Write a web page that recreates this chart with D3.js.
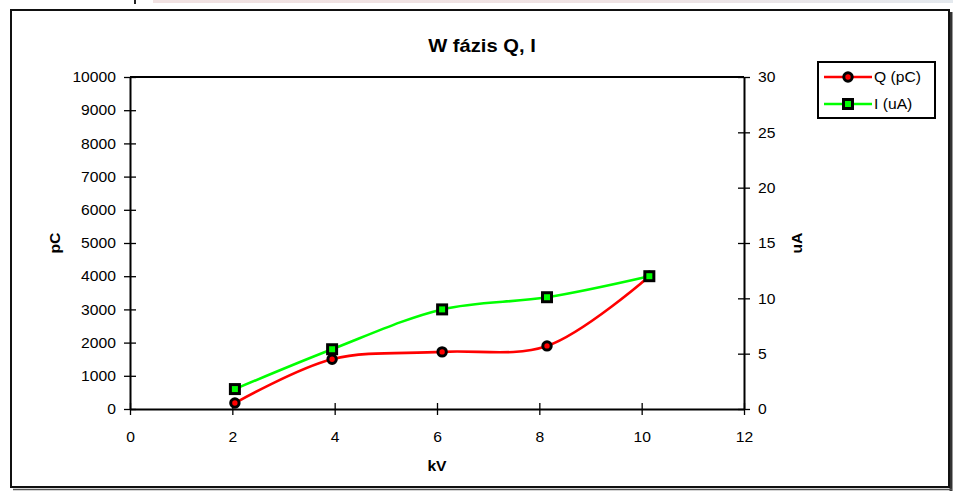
<!DOCTYPE html>
<html>
<head>
<meta charset="utf-8">
<script src="https://cdn.jsdelivr.net/npm/d3@7"></script>
<style>
  body { margin: 0; background: #fff; }
  svg { display: block; }
  text { font-family: "Liberation Sans", Arial, sans-serif; fill: #000; }
</style>
</head>
<body>
<svg id="chart" width="953" height="492"></svg>
<script>
// Measurements: voltage (kV), discharge (pC, left axis), current (uA, right axis)
const kv = [2.05, 3.95, 6.1, 8.15, 10.15];
const charge = [180, 1500, 1720, 1900, 4000];
const current = [1.8, 5.4, 9.0, 10.1, 12.0];

const xTicks = [0, 2, 4, 6, 8, 10, 12];
const leftTicks = [0, 1000, 2000, 3000, 4000, 5000, 6000, 7000, 8000, 9000, 10000];
const rightTicks = [0, 5, 10, 15, 20, 25, 30];
const seriesNames = ["Q (pC)", "I (uA)"];
const titleText = "W fázis Q, I";
const xTitle = "kV", leftTitle = "pC", rightTitle = "uA";

const svg = d3.select("#chart");
const plot = { left: 130, right: 744, top: 77, bottom: 409 };
const sx = 1.12;            // slightly wide lettering

const x = d3.scaleLinear().domain([0, 12]).range([plot.left, plot.right]);
const yL = d3.scaleLinear().domain([0, 10000]).range([plot.bottom, plot.top]);
const yR = d3.scaleLinear().domain([0, 30]).range([plot.bottom, plot.top]);

// strip along the top edge
const defs = svg.append("defs");
const grad = defs.append("linearGradient").attr("id", "strip");
grad.append("stop").attr("offset", "0%").attr("stop-color", "#f1e2e2");
grad.append("stop").attr("offset", "60%").attr("stop-color", "#efe3e4");
grad.append("stop").attr("offset", "100%").attr("stop-color", "#e4e9ee");
svg.append("rect").attr("x", 153).attr("y", 0).attr("width", 800).attr("height", 3)
  .attr("fill", "url(#strip)");
svg.append("rect").attr("x", 134).attr("y", 0).attr("width", 2).attr("height", 4)
  .attr("fill", "#222");

// chart frame with shadow
svg.append("line").attr("x1", 951).attr("x2", 951).attr("y1", 12).attr("y2", 491)
  .attr("stroke", "#333").attr("stroke-width", 3);
svg.append("line").attr("x1", 13).attr("x2", 952).attr("y1", 489.5).attr("y2", 489.5)
  .attr("stroke", "#555").attr("stroke-width", 1.5);
svg.append("rect").attr("x", 11).attr("y", 10).attr("width", 938).attr("height", 477)
  .attr("fill", "none").attr("stroke", "#111").attr("stroke-width", 2);

function label(txt, px, py, opts = {}) {
  const rot = opts.rotate ? ` rotate(${opts.rotate})` : "";
  return svg.append("text")
    .attr("transform", `translate(${px},${py})${rot} scale(${sx},1)`)
    .attr("text-anchor", opts.anchor || "middle")
    .attr("dominant-baseline", "central")
    .attr("font-size", opts.size || 14)
    .attr("font-weight", opts.bold ? "bold" : "normal")
    .text(txt);
}

// title and axis titles
label(titleText, 482, 46, { size: 18, bold: true });
label(xTitle, (plot.left + plot.right) / 2, 466, { bold: true });
label(leftTitle, 55, (plot.top + plot.bottom) / 2, { bold: true, rotate: -90 });
label(rightTitle, 797, (plot.top + plot.bottom) / 2, { bold: true, rotate: -90 });

// plot area top border
svg.append("line").attr("x1", plot.left).attr("x2", plot.right)
  .attr("y1", plot.top).attr("y2", plot.top)
  .attr("stroke", "#000").attr("stroke-width", 2);

function styleAxis(g, orient) {
  g.select(".domain").attr("stroke", "#000").attr("stroke-width", 2);
  g.selectAll(".tick line").attr("stroke", "#000").attr("stroke-width", 1.3);
  if (orient === "bottom") {
    g.selectAll(".tick line").attr("y1", -6).attr("y2", 6);
    g.selectAll(".tick text").attr("y", 0).attr("dy", null)
      .attr("dominant-baseline", "central")
      .attr("transform", `translate(0,28) scale(${sx},1)`);
  } else {
    g.selectAll(".tick line").attr("x1", -6).attr("x2", 6);
    const off = orient === "left" ? -14 : 14;
    g.selectAll(".tick text").attr("x", 0).attr("dy", null)
      .attr("dominant-baseline", "central")
      .attr("transform", `translate(${off},0) scale(${sx},1)`);
  }
  g.selectAll(".tick text").attr("font-size", 14).attr("font-family", null);
}

const gx = svg.append("g").attr("transform", `translate(0,${plot.bottom})`)
  .call(d3.axisBottom(x).tickValues(xTicks).tickSizeOuter(0).tickFormat(d3.format("d")));
styleAxis(gx, "bottom");

const gl = svg.append("g").attr("transform", `translate(${plot.left},0)`)
  .call(d3.axisLeft(yL).tickValues(leftTicks).tickSizeOuter(0).tickFormat(d3.format("d")));
styleAxis(gl, "left");

const gr = svg.append("g").attr("transform", `translate(${plot.right},0)`)
  .call(d3.axisRight(yR).tickValues(rightTicks).tickSizeOuter(0).tickFormat(d3.format("d")));
styleAxis(gr, "right");

// series
const qPts = kv.map((v, i) => [x(v), yL(charge[i])]);
const iPts = kv.map((v, i) => [x(v), yR(current[i])]);
const smooth = d3.line().curve(d3.curveCatmullRom.alpha(0.5));

svg.append("path").attr("d", smooth(qPts)).attr("fill", "none")
  .attr("stroke", "#ff0000").attr("stroke-width", 2.6);
svg.append("g").selectAll("circle").data(qPts).join("circle")
  .attr("cx", d => d[0]).attr("cy", d => d[1]).attr("r", 4.2)
  .attr("fill", "#ff0000").attr("stroke", "#000").attr("stroke-width", 3);

svg.append("path").attr("d", smooth(iPts)).attr("fill", "none")
  .attr("stroke", "#00ff00").attr("stroke-width", 2.6);
svg.append("g").selectAll("rect").data(iPts).join("rect")
  .attr("x", d => d[0] - 4.5).attr("y", d => d[1] - 4.5)
  .attr("width", 9).attr("height", 9)
  .attr("fill", "#00ff00").attr("stroke", "#000").attr("stroke-width", 3);

// legend
const lg = svg.append("g");
lg.append("rect").attr("x", 818).attr("y", 62).attr("width", 117).attr("height", 56)
  .attr("fill", "#fff").attr("stroke", "#000").attr("stroke-width", 2);
const rows = [
  { name: seriesNames[0], color: "#ff0000", shape: "circle", y: 77 },
  { name: seriesNames[1], color: "#00ff00", shape: "square", y: 104 }
];
rows.forEach(r => {
  lg.append("line").attr("x1", 824).attr("x2", 872).attr("y1", r.y).attr("y2", r.y)
    .attr("stroke", r.color).attr("stroke-width", 2.6);
  if (r.shape === "circle") {
    lg.append("circle").attr("cx", 848).attr("cy", r.y).attr("r", 4.2)
      .attr("fill", r.color).attr("stroke", "#000").attr("stroke-width", 3);
  } else {
    lg.append("rect").attr("x", 843.5).attr("y", r.y - 4.5).attr("width", 9).attr("height", 9)
      .attr("fill", r.color).attr("stroke", "#000").attr("stroke-width", 3);
  }
  lg.append("text")
    .attr("transform", `translate(874,${r.y}) scale(${sx},1)`)
    .attr("dominant-baseline", "central").attr("font-size", 14).text(r.name);
});
</script>
</body>
</html>
